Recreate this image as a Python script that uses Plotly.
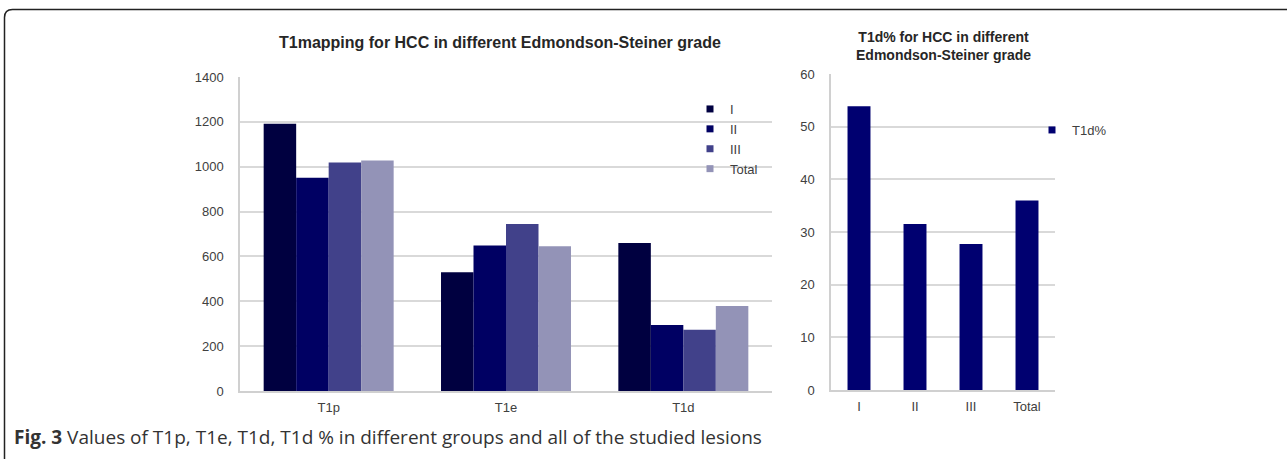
import plotly.graph_objects as go

W, H = 1287, 459

# Left chart: T1 mapping values (ms) per parameter and grade
params = ["T1p", "T1e", "T1d"]
grades = ["I", "II", "III", "Total"]
t1_I = [1192, 530, 660]
t1_II = [951, 649, 294]
t1_III = [1019, 745, 273]
t1_Total = [1028, 645, 379]
left_series = [t1_I, t1_II, t1_III, t1_Total]
grade_colors = ["#000040", "#000063", "#41418a", "#9393b7"]

# Right chart: T1d% per grade
pct_cats = ["I", "II", "III", "Total"]
t1d_pct = [53.9, 31.5, 27.7, 36.0]
pct_color = "#000070"

left_ticks = [0, 200, 400, 600, 800, 1000, 1200, 1400]
right_ticks = [0, 10, 20, 30, 40, 50, 60]


def px_x(x):
    return x / W


def px_y(y):
    return (H - y) / H


fig = go.Figure()

for name, vals, col in zip(grades, left_series, grade_colors):
    fig.add_trace(go.Bar(x=params, y=vals, name=name, marker=dict(color=col, line=dict(width=0)),
                         xaxis="x", yaxis="y", showlegend=False))
    # small square legend entry
    fig.add_trace(go.Scatter(x=[None], y=[None], mode="markers", name=name,
                             marker=dict(symbol="square", size=7, color=col),
                             xaxis="x", yaxis="y", legend="legend"))

fig.add_trace(go.Bar(x=pct_cats, y=t1d_pct, name="T1d%", width=0.41,
                     marker=dict(color=pct_color, line=dict(width=0)),
                     xaxis="x2", yaxis="y2", showlegend=False))
fig.add_trace(go.Scatter(x=[None], y=[None], mode="markers", name="T1d%",
                         marker=dict(symbol="square", size=7, color=pct_color),
                         xaxis="x2", yaxis="y2", legend="legend2"))

base_font = "Liberation Sans, Arial, sans-serif"
tick_font = dict(family=base_font, size=13, color="#404040")
legend_font = dict(family=base_font, size=13, color="#404040")
grid_col = "#d9d9d9"
axis_col = "#d0d0d0"

fig.update_layout(
    width=W, height=H,
    margin=dict(l=0, r=0, t=0, b=0, autoexpand=False),
    paper_bgcolor="white", plot_bgcolor="white",
    barmode="group", bargap=0.267, bargroupgap=0,
    font=dict(family=base_font, color="#333333"),
    xaxis=dict(domain=[px_x(240), px_x(772)], anchor="y", showgrid=False, automargin=False,
               showline=True, linecolor=axis_col, linewidth=1.5,
               tickfont=tick_font, ticks="", ticklabelstandoff=4),
    yaxis=dict(domain=[px_y(391), px_y(77)], anchor="x", range=[0, 1400], automargin=False,
               tickvals=left_ticks, showgrid=True, gridcolor=grid_col, gridwidth=1.5,
               showline=True, linecolor=axis_col, linewidth=1.5, zeroline=False,
               tickfont=tick_font, ticks="", ticklabelstandoff=12),
    xaxis2=dict(domain=[px_x(831), px_x(1055)], anchor="y2", showgrid=False, automargin=False,
                showline=True, linecolor=axis_col, linewidth=1.5,
                tickfont=tick_font, ticks="", ticklabelstandoff=4),
    yaxis2=dict(domain=[px_y(390), px_y(74)], anchor="x2", range=[0, 60], automargin=False,
                tickvals=right_ticks, showgrid=True, gridcolor=grid_col, gridwidth=1.5,
                showline=True, linecolor=axis_col, linewidth=1.5, zeroline=False,
                tickfont=tick_font, ticks="", ticklabelstandoff=12),
    legend=dict(x=px_x(690), y=px_y(94), xanchor="left", yanchor="top",
                bgcolor="rgba(0,0,0,0)", borderwidth=0, font=legend_font),
    legend2=dict(x=px_x(1032), y=px_y(115), xanchor="left", yanchor="top",
                 bgcolor="rgba(0,0,0,0)", borderwidth=0, font=legend_font),
)

fig.add_annotation(text="<b>T1mapping for HCC in different Edmondson-Steiner grade</b>",
                   x=px_x(500), y=px_y(42), xref="paper", yref="paper",
                   showarrow=False, xanchor="center", yanchor="middle",
                   font=dict(family=base_font, size=16, color="#262626"))
fig.add_annotation(text="<b>T1d% for HCC in different<br>Edmondson-Steiner grade</b>",
                   x=px_x(943), y=px_y(46), xref="paper", yref="paper",
                   showarrow=False, xanchor="center", yanchor="middle",
                   font=dict(family=base_font, size=14, color="#262626"))

# caption below the charts
fig.add_annotation(text="<b>Fig. 3</b> Values of T1p, T1e, T1d, T1d % in different groups and all of the studied lesions",
                   x=px_x(12), y=px_y(437), xref="paper", yref="paper",
                   showarrow=False, xanchor="left", yanchor="middle",
                   font=dict(family="Open Sans, sans-serif", size=19, color="#333333"))

# rounded frame around the figure
r = 8
x0, y0 = 4.5, 9.5
yb = 460
path = (f"M {px_x(x0)},{px_y(yb)} L {px_x(x0)},{px_y(y0 + r)} "
        f"Q {px_x(x0)},{px_y(y0)} {px_x(x0 + r)},{px_y(y0)} L {px_x(W + 2)},{px_y(y0)}")
fig.add_shape(type="path", path=path, xref="paper", yref="paper",
              line=dict(color="#222222", width=1.5))

fig.write_html("out.html")
